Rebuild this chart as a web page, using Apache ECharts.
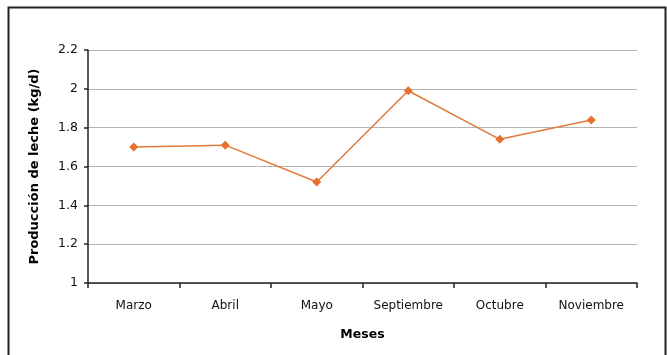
<!DOCTYPE html>
<html>
<head>
<meta charset="utf-8">
<script src="https://cdn.jsdelivr.net/npm/echarts@6/dist/echarts.min.js"></script>
<style>
  html, body { margin: 0; padding: 0; background: #fff; }
  #chart { width: 667px; height: 355px; }
</style>
</head>
<body>
<div id="chart"></div>
<script>
// Monthly milk production (kg per day)
const months = ['Marzo', 'Abril', 'Mayo', 'Septiembre', 'Octubre', 'Noviembre'];
const production = [1.70, 1.71, 1.52, 1.99, 1.74, 1.84];
const yTicks = [1, 1.2, 1.4, 1.6, 1.8, 2, 2.2];

const chart = echarts.init(document.getElementById('chart'), null, { renderer: 'canvas' });

const font = '"DejaVu Sans", Verdana, sans-serif';

chart.setOption({
  animation: false,
  backgroundColor: '#ffffff',
  grid: { left: 88, right: 30, top: 50, bottom: 72, containLabel: false },
  graphic: [
    // outer frame (top, left, right edges)
    { type: 'polyline', shape: { points: [[8.5, 355], [8.5, 7.5], [665.5, 7.5], [665.5, 355]] },
      style: { stroke: '#222', lineWidth: 2, fill: null }, silent: true }
  ],
  xAxis: {
    type: 'category',
    data: months,
    boundaryGap: true,
    name: 'Meses',
    nameLocation: 'middle',
    nameGap: 45,
    nameTextStyle: { fontFamily: font, fontWeight: 'bold', fontSize: 12.5, color: '#000' },
    axisLine: { lineStyle: { color: '#222', width: 1.5 } },
    axisTick: { show: true, interval: 0, alignWithLabel: false, length: 5, lineStyle: { color: '#222', width: 1.5 } },
    axisLabel: { interval: 0, hideOverlap: false, fontFamily: font, fontSize: 12, color: '#111', margin: 17 },
    splitLine: { show: false }
  },
  yAxis: {
    type: 'value',
    min: yTicks[0],
    max: yTicks[yTicks.length - 1],
    interval: 0.2,
    name: 'Producción de leche (kg/d)',
    nameLocation: 'middle',
    nameGap: 47,
    nameTextStyle: { fontFamily: font, fontWeight: 'bold', fontSize: 13, color: '#000' },
    axisLine: { show: true, lineStyle: { color: '#222', width: 1.5 } },
    axisTick: { show: true, length: 4, inside: false, lineStyle: { color: '#222', width: 1.5 } },
    axisLabel: {
      fontFamily: font, fontSize: 12.5, color: '#111', margin: 10,
      formatter: v => String(Math.round(v * 10) / 10)
    },
    splitLine: { show: true, lineStyle: { color: '#b4b4b4', width: 1.2 } }
  },
  series: [{
    type: 'line',
    data: production,
    symbol: 'diamond',
    symbolSize: 9,
    lineStyle: { color: '#e07a3c', width: 1.5 },
    itemStyle: { color: '#e8702c' }
  }]
});
</script>
</body>
</html>
